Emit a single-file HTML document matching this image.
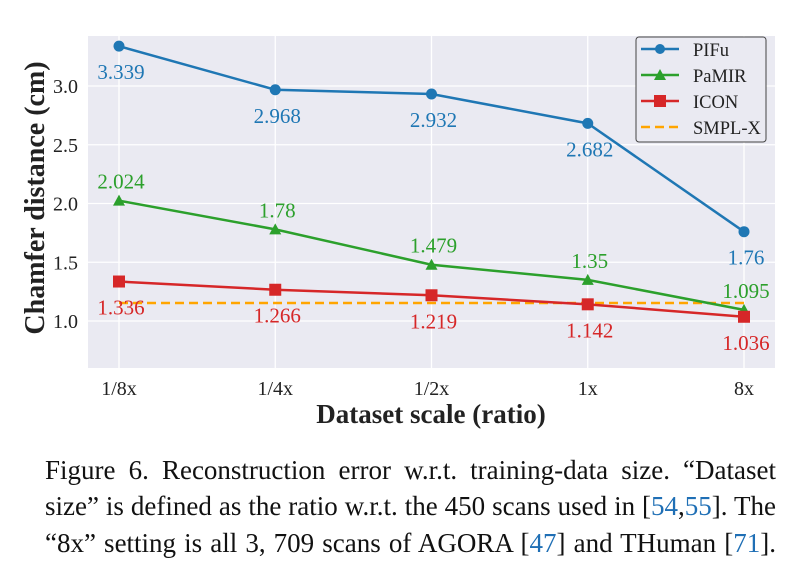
<!DOCTYPE html>
<html><head><meta charset="utf-8"><style>
body{margin:0;background:#fff;width:786px;height:564px;overflow:hidden;font-family:"Liberation Serif",serif}
.cap{position:absolute;left:45px;width:731px;text-align:justify;text-align-last:justify;font-size:27px;color:#111;white-space:nowrap;line-height:30px}
.b{color:#1f6fb5}
</style></head><body>
<svg width="786" height="430" style="position:absolute;left:0;top:0" font-family="Liberation Serif, serif">
<g id="g"></g>
</svg>
<div class="cap" style="top:455px">Figure 6. Reconstruction error w.r.t. training-data size. “Dataset</div>
<div class="cap" style="top:491px">size” is defined as the ratio w.r.t. the 450 scans used in [<span class="b">54</span>,<span class="b">55</span>]. The</div>
<div class="cap" style="top:528px">“8x” setting is all 3, 709 scans of AGORA [<span class="b">47</span>] and THuman [<span class="b">71</span>].</div>
<script>
const categories=["1/8x","1/4x","1/2x","1x","8x"];
const pifu=[3.339,2.968,2.932,2.682,1.76];
const pamir=[2.024,1.78,1.479,1.35,1.095];
const icon=[1.336,1.266,1.219,1.142,1.036];
const smplx=1.153;
const yTicks=[1.0,1.5,2.0,2.5,3.0];
const L=88,R=775,T=36,B=368;
function X(i){return 119+i*156.25;}
function Y(v){return 321-(v-1)*117.5;}
const NS="http://www.w3.org/2000/svg";
const g=document.getElementById('g');
function mk(t,a,p){const e=document.createElementNS(NS,t);for(const k in a)e.setAttribute(k,a[k]);(p||g).appendChild(e);return e;}
let e=mk('rect',{x:L,y:T,width:R-L,height:B-T,fill:'#eaeaf2'});

yTicks.forEach(v=>{e=mk('line',{x1:L,x2:R,y1:Y(v),y2:Y(v),stroke:'#fff','stroke-width':1.3});

e=mk('text',{x:L-10,y:Y(v)+7,'text-anchor':'end','font-size':20,fill:'#222'});e.textContent=v.toFixed(1);
});
categories.forEach((c,i)=>{e=mk('line',{x1:X(i),x2:X(i),y1:T,y2:B,stroke:'#fff','stroke-width':1.3});

e=mk('text',{x:X(i),y:395,'text-anchor':'middle','font-size':20,fill:'#222'});e.textContent=c;
});
e=mk('line',{x1:X(0),x2:X(4),y1:Y(smplx),y2:Y(smplx),stroke:'#ffa500','stroke-width':2.5,'stroke-dasharray':'9,5'});

function series(vals,col,name,marker,lab){
 e=mk('polyline',{points:vals.map((v,i)=>X(i)+','+Y(v)).join(' '),fill:'none',stroke:col,'stroke-width':2.5});
 
 vals.forEach((v,i)=>{const x=X(i),y=Y(v);
  if(marker=='c')e=mk('circle',{cx:x,cy:y,r:5.5,fill:col});
  else if(marker=='t')e=mk('polygon',{points:`${x},${y-6} ${x-6},${y+5} ${x+6},${y+5}`,fill:col});
  else e=mk('rect',{x:x-6,y:y-6,width:12,height:12,fill:col});
  
  e=mk('text',{x:x+2,y:lab>0?y+33:y-12,'text-anchor':'middle','font-size':21,fill:col});e.textContent=String(v);
  });}
series(pifu,'#1f77b4','pifu','c',1);
series(pamir,'#2ca02c','pamir','t',-1);
series(icon,'#d62728','icon','s',1);
e=mk('text',{x:0,y:0,transform:'translate(44,198) rotate(-90)','text-anchor':'middle','font-size':28,'font-weight':'bold',fill:'#222'});e.textContent='Chamfer distance (cm)';

e=mk('text',{x:431,y:423,'text-anchor':'middle','font-size':27,'font-weight':'bold',fill:'#222'});e.textContent='Dataset scale (ratio)';

const lg=mk('g',{});
mk('rect',{x:636,y:37,width:130,height:105,rx:3,fill:'#eaeaf2',stroke:'#444','stroke-width':1},lg);
const names=['PIFu','PaMIR','ICON','SMPL-X'],cols=['#1f77b4','#2ca02c','#d62728','#ffa500'];
names.forEach((n,k)=>{const y=49+k*26;
 e=mk('line',{x1:641,x2:679,y1:y,y2:y,stroke:cols[k],'stroke-width':2.5,'stroke-dasharray':k==3?'9,5':''},lg);
 
 if(k==0)mk('circle',{cx:660,cy:y,r:5,fill:cols[k]},lg);
 if(k==1)mk('polygon',{points:`660,${y-6} 654,${y+5} 666,${y+5}`,fill:cols[k]},lg);
 if(k==2)mk('rect',{x:654,y:y-6,width:12,height:12,fill:cols[k]},lg);
 e=mk('text',{x:693,y:y+7,'font-size':18.5,fill:'#222'},lg);e.textContent=n;
 });
</script>
</body></html>
